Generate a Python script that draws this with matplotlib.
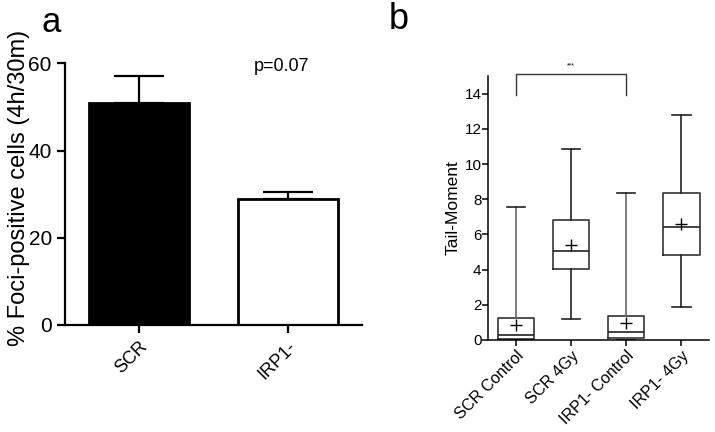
import matplotlib
matplotlib.use("Agg")
import matplotlib.pyplot as plt

plt.rcParams['font.family'] = ['Liberation Sans', 'DejaVu Sans']

# Panel a data
bar_labels = ["SCR", "IRP1-"]
bar_means = [51.0, 29.0]
bar_err_upper = [6.0, 1.4]
bar_colors = ["black", "white"]
a_yticks = [0, 20, 40, 60]

# Panel b data
box_labels = ["SCR Control", "SCR 4Gy", "IRP1- Control", "IRP1- 4Gy"]
box_whislo = [0.0, 1.19, 0.0, 1.85]
box_q1 = [0.07, 4.02, 0.09, 4.83]
box_med = [0.28, 5.04, 0.47, 6.42]
box_q3 = [1.23, 6.80, 1.38, 8.36]
box_whishi = [7.55, 10.83, 8.34, 12.81]
box_mean = [0.85, 5.42, 0.98, 6.61]
b_yticks = [0, 2, 4, 6, 8, 10, 12, 14]

fig = plt.figure(figsize=(7.15, 4.32), dpi=100)

# ---------- Panel a ----------
axa = fig.add_axes([0.0909, 0.2477, 0.4153, 0.6058])
x = list(range(len(bar_labels)))
axa.bar(x, bar_means, width=0.676, color=bar_colors, edgecolor="black", linewidth=2, zorder=2)
axa.errorbar(x, bar_means, yerr=[[0] * len(bar_means), bar_err_upper], fmt="none",
             ecolor="black", elinewidth=1.6, capsize=18, capthick=1.6, zorder=1)
axa.set_xlim(-0.5, 1.5)
axa.set_ylim(0, 60)
axa.set_yticks(a_yticks)
axa.set_xticks(x)
axa.set_xticklabels(bar_labels, rotation=45, ha="right", rotation_mode="anchor", fontsize=13)
axa.tick_params(axis="y", labelsize=15, width=1.6, length=6, direction="out")
axa.tick_params(axis="x", width=1.6, length=6, direction="out")
for s in ["top", "right"]:
    axa.spines[s].set_visible(False)
for s in ["left", "bottom"]:
    axa.spines[s].set_linewidth(1.6)
axa.set_ylabel("% Foci-positive cells (4h/30m)", fontsize=17)
axa.yaxis.set_label_coords(-0.118, 0.523)
axa.text(0.96, 59.2, "p=0.07", ha="center", va="center", fontsize=13)
fig.text(0.071, 0.949, "a", fontsize=25, ha="center", va="center")

# ---------- Panel b ----------
axb = fig.add_axes([0.683, 0.213, 0.3086, 0.611])
stats = []
for i in range(len(box_labels)):
    stats.append(dict(whislo=box_whislo[i], q1=box_q1[i], med=box_med[i],
                      q3=box_q3[i], whishi=box_whishi[i], mean=box_mean[i],
                      label=box_labels[i], fliers=[]))
pos = list(range(len(box_labels)))
parts = axb.bxp(stats, positions=pos, widths=0.66, showmeans=True, showfliers=False,
                boxprops=dict(color="#333333", linewidth=1.2),
                medianprops=dict(color="#222222", linewidth=1.2),
                whiskerprops=dict(color="#222222", linewidth=1.2),
                capprops=dict(color="#222222", linewidth=1.2),
                meanprops=dict(marker="+", markeredgecolor="black", markersize=9, markeredgewidth=1.0))
for i in (0, 2):
    for w in parts["whiskers"][2 * i:2 * i + 2]:
        w.set_color("#666666")
axb.set_xlim(-0.5, 3.5)
axb.set_ylim(0, 15)
axb.set_yticks(b_yticks)
axb.set_xticks(pos)
axb.set_xticklabels(box_labels, rotation=45, ha="right", rotation_mode="anchor", fontsize=11.5)
axb.tick_params(axis="y", labelsize=11, width=1.1, length=4, direction="out", pad=1)
axb.tick_params(axis="x", width=1.1, length=4, direction="out", pad=2)
for s in ["top", "right"]:
    axb.spines[s].set_visible(False)
for s in ["left", "bottom"]:
    axb.spines[s].set_linewidth(1.1)
axb.set_ylabel("Tail-Moment", fontsize=12.5, labelpad=3)
# significance bracket
axb.plot([0, 0, 2, 2], [13.93, 15.1, 15.1, 13.93], color="#333333", linewidth=1.0, clip_on=False)
axb.text(1.0, 15.6, "***", ha="center", va="center", fontsize=5)
fig.text(0.557, 0.955, "b", fontsize=26, ha="center", va="center")

fig.savefig("out.png", dpi=100)
